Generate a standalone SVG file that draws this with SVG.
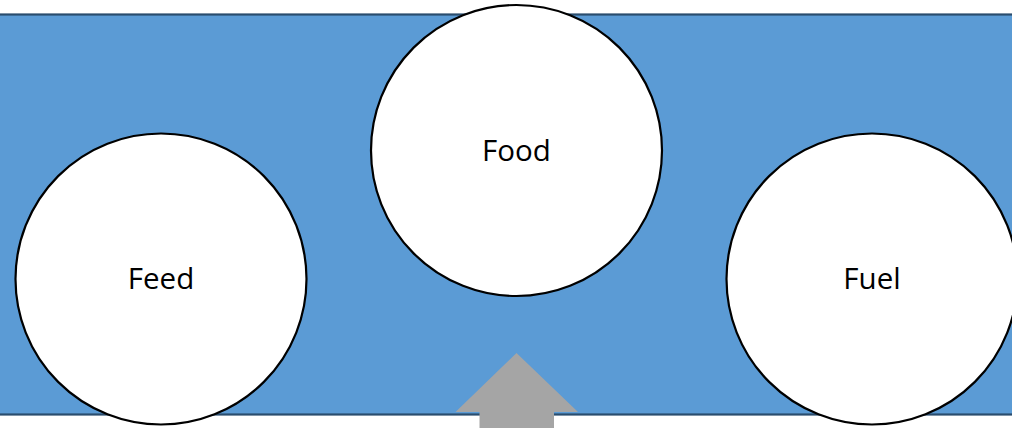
<svg xmlns="http://www.w3.org/2000/svg" width="1012" height="428" viewBox="0 0 1012 428">
<style>
.node{fill:#ffffff;stroke:#000000;stroke-width:2.2}
.lbl{font-family:"Open Sans","Liberation Sans",sans-serif;font-size:29.5px;fill:#000000;text-anchor:middle}
</style>
<rect x="0" y="0" width="1012" height="428" fill="#ffffff"/>
<rect id="band" x="-5" y="14.5" width="1025" height="400" fill="#5b9bd5" stroke="#2a4d6e" stroke-width="2.2"/>
<g id="feed"><circle class="node" cx="161" cy="279" r="145.5"/><text class="lbl" x="161" y="288.5">Feed</text></g>
<g id="food"><circle class="node" cx="516.5" cy="150.5" r="145.5"/><text class="lbl" x="516.5" y="160.5">Food</text></g>
<g id="fuel"><circle class="node" cx="872" cy="279" r="145.5"/><text class="lbl" x="872" y="288.5">Fuel</text></g>
<g id="connectors"><polygon points="516.5,353 578,412 554,412 554,428 479.5,428 479.5,412 455.5,412" fill="#a5a5a5"/></g>
</svg>
